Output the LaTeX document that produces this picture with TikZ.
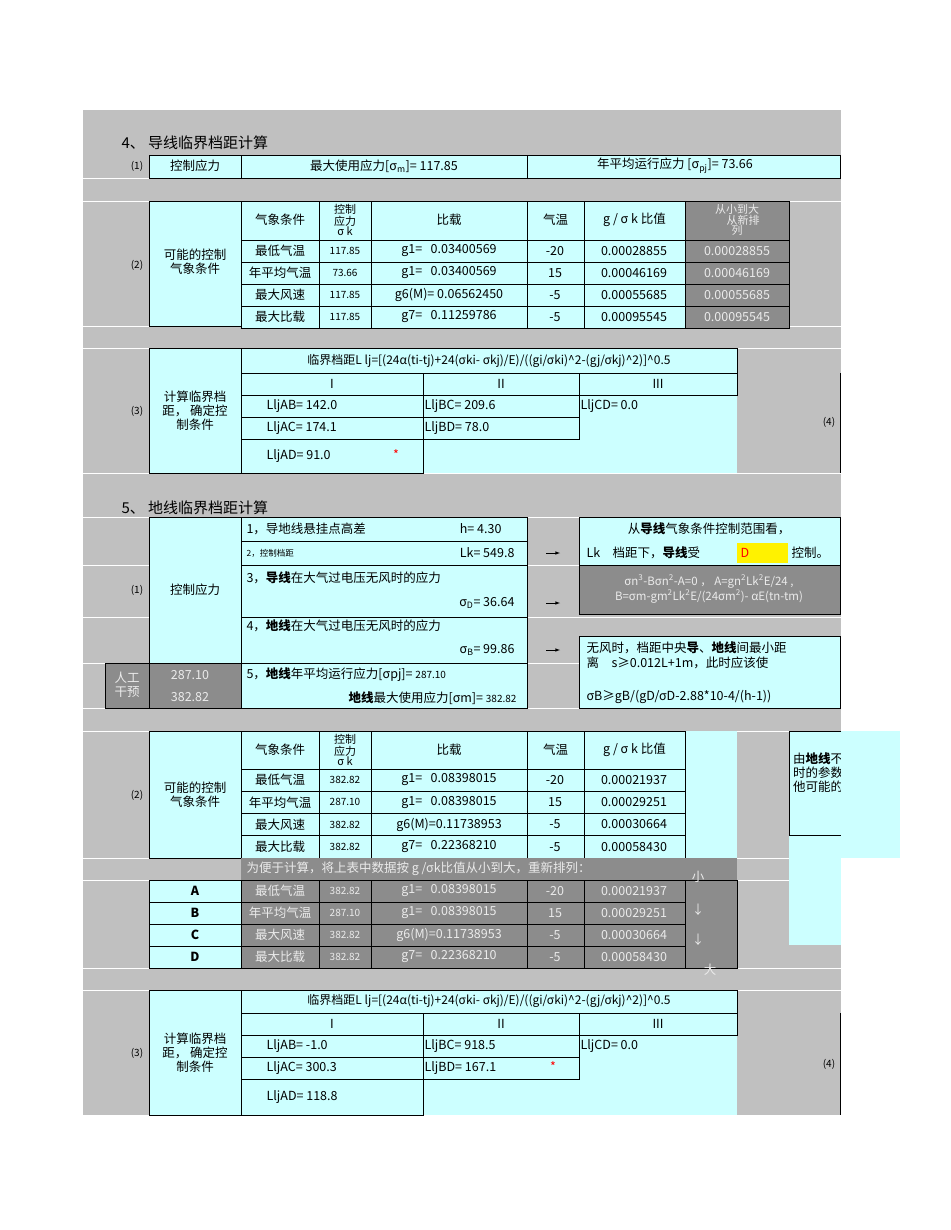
\documentclass[tikz,border=0pt]{standalone}
\usepackage{fontspec}
\setmainfont{Noto Sans CJK SC}
\definecolor{cyc}{HTML}{CCFFFF}
\definecolor{dkc}{HTML}{8C8C8C}
\definecolor{bgc}{HTML}{C0C0C0}
\begin{document}
\begin{tikzpicture}[x=1pt,y=-1pt,font=\fontsize{12.5}{14}\selectfont,
 cy/.style={fill=cyc,draw=black,line width=0.8pt},
 cyn/.style={fill=cyc},
 dk/.style={fill=dkc,draw=black,line width=0.8pt},
 wt/.style={text=white!92!black},
 sm/.style={font=\fontsize{10}{10}\selectfont},
 arr/.style={-latex,line width=0.6pt}]
\useasboundingbox (0,0) rectangle (950,1230);
\fill[white] (0,0) rectangle (950,1230);
\fill[bgc] (83,110) rectangle (841,1115);
\foreach \y in {178,201,326,348,473,517,565,617,663,708,731,858,880,968,990}{\draw[white,line width=0.4pt] (83,\y)--(841,\y);}
% Section 4
\node[anchor=west,font=\fontsize{15}{16}\selectfont] (t4) at (118,143) {4、 导线临界档距计算};
\node[sm] (l41) at (137,166) {(1)};
\draw[cy] (149,155) rectangle (241,178); \node (a1) at (195,166) {控制应力};
\draw[cy] (241,155) rectangle (527,178); \node (a2) at (384,166) {最大使用应力[σ\textsubscript{m}]= 117.85};
\draw[cy] (527,155) rectangle (840,178); \node (a3) at (675,166) {年平均运行应力 [σ\textsubscript{pj}]= 73.66};
% table 2 (sec 4)
\node[sm] (l42) at (137,265) {(2)};
\draw[cy] (149,201) rectangle (241,326);
\node[align=center] (b0) at (195,262) {可能的控制\\气象条件};
\foreach \xa/\xb/\t in {241/319/{气象条件},371/527/{比载},527/584/{气温},584/685/{g / σ k 比值}}{
 \draw[cy] (\xa,201) rectangle (\xb,240); \node at ({(\xa+\xb)/2},220) {\t};}
\draw[cy] (319,201) rectangle (371,240);
\node[align=center,font=\fontsize{11}{10}\selectfont] (hk) at (345,220) {控制\\应力\\σ k};
\draw[dk] (685,201) rectangle (789,240);
\node[wt,align=center,font=\fontsize{11}{10.5}\selectfont] (hs) at (737,220) {从小到大\\ \ \ \ \ \ 从新排\\列};
\foreach \i/\c/\s/\g/\T/\r in {0/最低气温/117.85/{g1=\ \ \ 0.03400569}/-20/0.00028855,1/年平均气温/73.66/{g1=\ \ \ 0.03400569}/15/0.00046169,2/最大风速/117.85/{g6(M)= 0.06562450}/-5/0.00055685,3/最大比载/117.85/{g7=\ \ \ 0.11259786}/-5/0.00095545}{
 \pgfmathsetmacro\ya{240+22*\i}\pgfmathsetmacro\yb{\ya+22}\pgfmathsetmacro\ym{\ya+11}
 \draw[cy] (241,\ya) rectangle (319,\yb); \node at (280,\ym) {\c};
 \draw[cy] (319,\ya) rectangle (371,\yb); \node[sm] at (345,\ym) {\s};
 \draw[cy] (371,\ya) rectangle (527,\yb); \node at (449,\ym) {\g};
 \draw[cy] (527,\ya) rectangle (584,\yb); \node at (555,\ym) {\T};
 \draw[cy] (584,\ya) rectangle (685,\yb); \node at (634,\ym) {\r};
 \draw[dk] (685,\ya) rectangle (789,\yb); \node[wt] at (737,\ym) {\r};}
% table 3 (sec 4)
\node[sm] (l43) at (137,411) {(3)};
\fill[cyn] (579,395) rectangle (737,473);
\fill[cyn] (423,439) rectangle (737,473);
\draw[cy] (149,348) rectangle (241,473);
\node[align=center] (c0) at (195,411) {计算临界档\\距， 确定控\\制条件};
\draw[cy] (241,348) rectangle (737,373);
\node[font=\fontsize{12}{13}\selectfont] (c1) at (489,361) {临界档距L lj=[(24α(ti-tj)+24(σki- σkj)/E)/((gi/σki)\^{}2-(gj/σkj)\^{}2)]\^{}0.5};
\draw[cy] (241,373) rectangle (423,395); \node at (332,384) {I};
\draw[cy] (423,373) rectangle (579,395); \node at (501,384) {II};
\draw[cy] (579,373) rectangle (737,395); \node at (658,384) {III};
\draw[cy] (241,395) rectangle (423,417); \node[anchor=west] at (263,406) {LljAB= 142.0};
\draw[cy] (423,395) rectangle (579,417); \node[anchor=west] at (421,406) {LljBC= 209.6};
\node[anchor=west] at (577,406) {LljCD= 0.0};
\draw[cy] (241,417) rectangle (423,439); \node[anchor=west] at (263,428) {LljAC= 174.1};
\draw[cy] (423,417) rectangle (579,439); \node[anchor=west] at (421,428) {LljBD= 78.0};
\draw[cy] (241,439) rectangle (423,473); \node[anchor=west] at (263,456) {LljAD= 91.0};
\node[red] at (396,455) {*};
\draw[line width=1pt] (840,373)--(840,473); \node[sm] (c4) at (829,422) {(4)};
% Section 5
\node[anchor=west,font=\fontsize{15}{16}\selectfont] (t5) at (118,508) {5、 地线临界档距计算};
\node[sm] (l51) at (137,590) {(1)};
\draw[cy] (149,517) rectangle (241,663); \node (d0) at (195,590) {控制应力};
\draw[dk] (105,663) rectangle (149,708); \node[wt,align=center] at (127,685) {人工\\干预};
\draw[dk] (149,663) rectangle (241,708);
\node[wt] at (190,675) {287.10}; \node[wt] at (190,697) {382.82};
\draw[cy] (241,517) rectangle (527,541);
\node[anchor=west] at (243,529) {1，导地线悬挂点高差}; \node[anchor=east] at (505,529) {h= 4.30};
\draw[cy] (241,541) rectangle (527,565);
\node[anchor=west,font=\fontsize{8.5}{9}\selectfont] at (243,553) {2，控制档距}; \node[anchor=east] at (518,553) {Lk= 549.8};
\draw[cy] (241,565) rectangle (527,617);
\node[anchor=west] at (243,578) {3，\textbf{导线}在大气过电压无风时的应力}; \node[anchor=east] at (518,603) {σ\textsubscript{D}= 36.64};
\draw[cy] (241,617) rectangle (527,663);
\node[anchor=west] at (243,626) {4，\textbf{地线}在大气过电压无风时的应力}; \node[anchor=east] at (518,650) {σ\textsubscript{B}= 99.86};
\draw[cy] (241,663) rectangle (527,708);
\node[anchor=west] at (243,675) {5，\textbf{地线}年平均运行应力[σpj]= {\fontsize{10}{10}\selectfont 287.10}};
\node[anchor=east] at (520,698) {\textbf{地线}最大使用应力[σm]= {\fontsize{10}{10}\selectfont 382.82}};
\coordinate (p1) at (546,553); \coordinate (q1) at (560,553);
\coordinate (p2) at (546,603); \coordinate (q2) at (560,603);
\coordinate (p3) at (546,650); \coordinate (q3) at (560,650);
\draw[arr] (p1)--(q1); \draw[arr] (p2)--(q2); \draw[arr] (p3)--(q3);
\draw[cy] (579,517) rectangle (840,565);
\node (e1) at (709,529) {从\textbf{导线}气象条件控制范围看，};
\fill[yellow] (737,543) rectangle (788,563);
\node[anchor=west] at (583,553) {Lk\quad 档距下，\textbf{导线}受};
\node[red,anchor=west] at (737,553) {D};
\node[anchor=west] at (788,553) {控制。};
\draw[dk] (579,565) rectangle (840,614);
\node[wt,align=center,font=\fontsize{11.5}{15}\selectfont] (e2) at (709,589) {σn\textsuperscript{3}-Bσn\textsuperscript{2}-A=0 ， A=gn\textsuperscript{2}Lk\textsuperscript{2}E/24 ,\\B=σm-gm\textsuperscript{2}Lk\textsuperscript{2}E/(24σm\textsuperscript{2})- αE(tn-tm)};
\draw[cy] (579,636) rectangle (840,708);
\node[anchor=west] at (583,648) {无风时，档距中央\textbf{导}、\textbf{地线}间最小距};
\node[anchor=west] at (583,663) {离\quad s≥0.012L+1m，此时应该使};
\node[anchor=west] at (583,697) {σB≥gB/(gD/σD-2.88*10-4/(h-1))};
% table 2 (sec 5)
\node[sm] (l52) at (137,795) {(2)};
\fill[cyn] (685,731) rectangle (737,858);
\fill[cyn] (789,731) rectangle (841,945);
\node[anchor=north west,align=left,inner sep=0pt] at (793,753) {由\textbf{地线}不\\时的参数\\他可能的};
\fill[white] (841,731) rectangle (950,1230);
\fill[cyn] (841,731) rectangle (900,858);
\draw[line width=0.8pt] (841,731)--(789,731)--(789,835)--(841,835);
\draw[cy] (149,731) rectangle (241,858);
\node[align=center] (f0) at (195,795) {可能的控制\\气象条件};
\foreach \xa/\xb/\t in {241/319/{气象条件},371/527/{比载},527/584/{气温},584/685/{g / σ k 比值}}{
 \draw[cy] (\xa,731) rectangle (\xb,769); \node at ({(\xa+\xb)/2},750) {\t};}
\draw[cy] (319,731) rectangle (371,769);
\node[align=center,font=\fontsize{11}{10}\selectfont] at (345,750) {控制\\应力\\σ k};
\foreach \i/\c/\s/\g/\T/\r in {0/最低气温/382.82/{g1=\ \ \ 0.08398015}/-20/0.00021937,1/年平均气温/287.10/{g1=\ \ \ 0.08398015}/15/0.00029251,2/最大风速/382.82/{g6(M)=0.11738953}/-5/0.00030664,3/最大比载/382.82/{g7=\ \ \ 0.22368210}/-5/0.00058430}{
 \pgfmathsetmacro\ya{769+22.25*\i}\pgfmathsetmacro\yb{\ya+22.25}\pgfmathsetmacro\ym{\ya+11}
 \draw[cy] (241,\ya) rectangle (319,\yb); \node at (280,\ym) {\c};
 \draw[cy] (319,\ya) rectangle (371,\yb); \node[sm] at (345,\ym) {\s};
 \draw[cy] (371,\ya) rectangle (527,\yb); \node at (449,\ym) {\g};
 \draw[cy] (527,\ya) rectangle (584,\yb); \node at (555,\ym) {\T};
 \draw[cy] (584,\ya) rectangle (685,\yb); \node at (634,\ym) {\r};
 \pgfmathsetmacro\yc{880+22*\i}\pgfmathsetmacro\yd{\yc+22}\pgfmathsetmacro\yn{\yc+11}
 \draw[dk] (241,\yc) rectangle (319,\yd); \node[wt] at (280,\yn) {\c};
 \draw[dk] (319,\yc) rectangle (371,\yd); \node[wt,sm] at (345,\yn) {\s};
 \draw[dk] (371,\yc) rectangle (527,\yd); \node[wt] at (449,\yn) {\g};
 \draw[dk] (527,\yc) rectangle (584,\yd); \node[wt] at (555,\yn) {\T};
 \draw[dk] (584,\yc) rectangle (685,\yd); \node[wt] at (634,\yn) {\r};}
\fill[dkc] (241,858) rectangle (737,880);
\node[wt,anchor=west] (g0) at (243,869) {为便于计算，将上表中数据按 g /σk比值从小到大，重新排列：};
\foreach \i/\L in {0/A,1/B,2/C,3/D}{\pgfmathsetmacro\yc{880+22*\i}\pgfmathsetmacro\yd{\yc+22}
 \draw[cy] (149,\yc) rectangle (241,\yd); \node[font=\bfseries\fontsize{12.5}{13}\selectfont] at (195,\yc+11) {\L};}
\draw[dk] (685,880) rectangle (737,968);
\node[wt] at (698,877) {小}; \node[wt] at (698,910) {↓}; \node[wt] at (698,940) {↓}; \node[wt] at (710,970) {大};
% table 3 (sec 5)
\node[sm] (l53) at (137,1053) {(3)};
\fill[cyn] (579,1035) rectangle (737,1115);
\fill[cyn] (423,1079) rectangle (737,1115);
\draw[cy] (149,990) rectangle (241,1115);
\node[align=center] (h0) at (195,1053) {计算临界档\\距， 确定控\\制条件};
\draw[cy] (241,990) rectangle (737,1013);
\node[font=\fontsize{12}{13}\selectfont] at (489,1001) {临界档距L lj=[(24α(ti-tj)+24(σki- σkj)/E)/((gi/σki)\^{}2-(gj/σkj)\^{}2)]\^{}0.5};
\draw[cy] (241,1013) rectangle (423,1035); \node at (332,1024) {I};
\draw[cy] (423,1013) rectangle (579,1035); \node at (501,1024) {II};
\draw[cy] (579,1013) rectangle (737,1035); \node at (658,1024) {III};
\draw[cy] (241,1035) rectangle (423,1057); \node[anchor=west] at (263,1046) {LljAB= -1.0};
\draw[cy] (423,1035) rectangle (579,1057); \node[anchor=west] at (421,1046) {LljBC= 918.5};
\node[anchor=west] at (577,1046) {LljCD= 0.0};
\draw[cy] (241,1057) rectangle (423,1079); \node[anchor=west] at (263,1068) {LljAC= 300.3};
\draw[cy] (423,1057) rectangle (579,1079); \node[anchor=west] at (421,1068) {LljBD= 167.1};
\node[red] at (553,1067) {*};
\draw[cy] (241,1079) rectangle (423,1115); \node[anchor=west] at (263,1097) {LljAD= 118.8};
\draw[line width=1pt] (840,1013)--(840,1115); \node[sm] at (829,1064) {(4)};
\end{tikzpicture}
\end{document}
